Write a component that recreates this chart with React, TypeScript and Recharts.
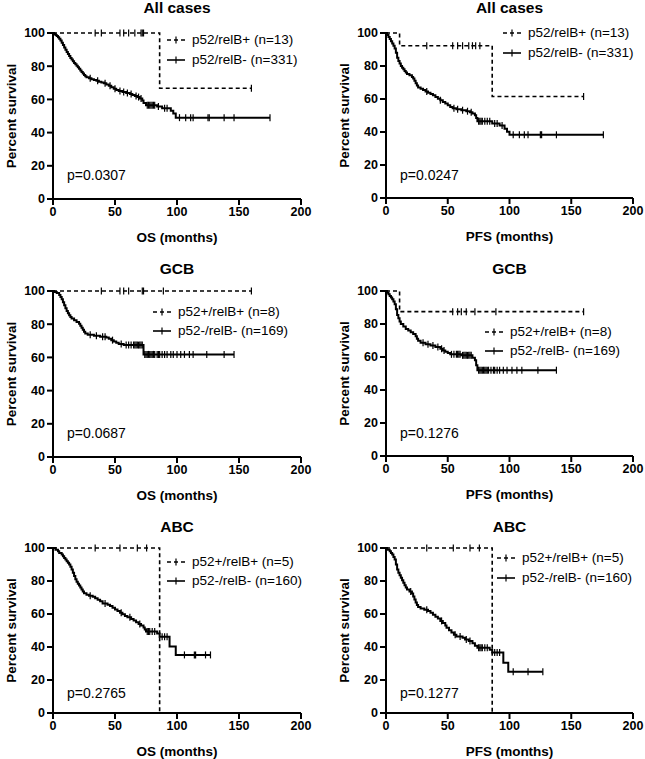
import React from 'react';
import { LineChart, Line, XAxis, YAxis } from 'recharts';

type Step = [number, number];

// step curves: [months, percent surviving after that time]
// All cases - OS
const osAllPosSteps: Step[] = [[0, 100], [86, 66.7]];
const osAllPosCens = [34, 39, 54, 57, 61, 66, 71, 72, 73, 160];
const osAllNegSteps: Step[] = [
  [0, 100], [1, 99.4], [2, 98.8], [3, 98.2], [4, 97.4], [5, 96.6], [6, 95.5], [7, 94.2], [8, 92.8], [9, 91.3],
  [10, 89.9], [11, 88.6], [12, 87.3], [13, 86.1], [14, 85], [15, 84], [16, 83], [17, 82], [18, 81.1], [19, 80.2],
  [20, 79.3], [21, 78.4], [22, 77.4], [23, 76.5], [24, 75.6], [25, 74.7], [26, 73.9], [27, 73.3], [29, 72.7],
  [31, 72.2], [33, 71.7], [35, 71.2], [37, 70.7], [39, 70.2], [41, 69.7], [43, 69], [45, 68.2], [47, 67.3],
  [49, 66.4], [51, 65.6], [53, 65], [56, 64.4], [59, 63.9], [62, 63.3], [64, 62.6], [66, 62], [68, 61.4],
  [70, 60.6], [72, 59.3], [73, 57.8], [75, 56.5], [84, 55.7], [88, 54.7], [95, 53.2], [97, 51.5], [99, 49],
];
const osAllNegCens = [30, 36, 42, 46, 50, 54, 57, 60, 63, 67, 69, 71, 76, 77, 78, 79, 80, 81, 82, 85, 90, 92,
  102, 107, 111, 113, 125, 126, 138, 146, 175];

// All cases - PFS
const pfsAllPosSteps: Step[] = [[0, 100], [11, 92.3], [86, 61.5]];
const pfsAllPosCens = [33, 54, 58, 62, 67, 70, 72.6, 76, 160];
const pfsAllNegSteps: Step[] = [
  [0, 100], [1, 98.8], [2, 97.6], [3, 96.4], [4, 95], [5, 93.6], [6, 92.2], [7, 90.6], [8, 88], [9, 85],
  [10, 83], [11, 81.5], [12, 80], [13, 79], [14, 78], [15, 77], [16, 76], [17, 75.2], [19, 74.4], [21, 73.4],
  [22, 72.4], [23, 71], [24, 69.6], [25, 68.2], [26, 67], [28, 66.2], [30, 65.4], [32, 64.6], [34, 63.8],
  [36, 63], [38, 62.2], [40, 61.2], [42, 60.2], [44, 59.2], [46, 58.2], [48, 57.2], [50, 56.2], [52, 55.2],
  [54, 54.4], [57, 53.8], [61, 53.2], [65, 52.6], [68, 52], [70, 51.2], [72, 50.2], [73, 48.5], [74, 46.5],
  [86, 45.2], [92, 44], [96, 42], [98, 40.2], [100, 38.3],
];
const pfsAllNegCens = [33, 44, 55, 58, 62, 66, 69, 75, 76, 77, 78, 80, 82, 84, 88, 90, 94,
  103, 108, 112, 115, 125, 126, 138, 176];

// GCB - OS
const osGcbPosSteps: Step[] = [[0, 100]];
const osGcbPosCens = [39, 54, 57, 61, 72, 73, 89, 160];
const osGcbNegSteps: Step[] = [
  [0, 100], [1, 99.4], [3, 98.8], [5, 97.6], [6, 96.4], [7, 95], [8, 93.2], [9, 91.4], [10, 89.6], [11, 88],
  [12, 86.6], [13, 85.4], [14, 84.4], [15, 83.4], [17, 82.4], [19, 81.4], [21, 80.2], [22, 79], [23, 77.8],
  [24, 76.6], [25, 75.4], [26, 74.4], [28, 73.6], [33, 73], [38, 72.5], [43, 72], [45, 71.2], [47, 70.4],
  [49, 69.6], [51, 68.8], [53, 68], [57, 67.4], [73, 61.8],
];
const osGcbNegCens = [30, 35, 40, 42, 48, 55, 59, 61, 63, 65, 66, 67, 68, 69, 70, 71, 72,
  74, 75, 76, 77, 78, 79, 80, 81, 82, 84, 85, 86, 88, 90, 92, 95, 97, 100, 103, 106, 110, 113, 124, 138, 146];

// GCB - PFS
const pfsGcbPosSteps: Step[] = [[0, 100], [11, 87.5]];
const pfsGcbPosCens = [54, 58, 61, 65, 72, 89, 160];
const pfsGcbNegSteps: Step[] = [
  [0, 100], [1, 99], [2, 98], [3, 97], [4, 96], [5, 95], [6, 93.6], [7, 92], [8, 89], [9, 85.5],
  [10, 83.5], [11, 81.5], [12, 80], [14, 78.5], [16, 77], [18, 76], [20, 75], [22, 74], [24, 72.6], [25, 71],
  [26, 69.8], [28, 68.6], [32, 67.8], [36, 67], [40, 66], [44, 65], [46, 64], [48, 63.2], [50, 62.4],
  [52, 61.6], [61, 61], [70, 59.5], [72, 58], [73, 55], [74, 52],
];
const pfsGcbNegCens = [30, 34, 38, 42, 45, 47, 53, 55, 57, 58, 59, 60, 62, 63, 64, 65, 66, 67, 68, 69,
  75, 76, 77, 78, 79, 80, 81, 82, 83, 85, 87, 88, 90, 92, 95, 98, 102, 106, 110, 123, 138];

// ABC - OS
const osAbcPosSteps: Step[] = [[0, 100], [86, 0]];
const osAbcPosCens = [34, 54, 68, 75.5];
const osAbcNegSteps: Step[] = [
  [0, 100], [2, 99], [4, 98], [5, 97], [7, 96], [8, 95], [9, 94], [10, 93], [11, 92], [12, 91], [13, 90],
  [14, 88.6], [15, 87], [16, 85], [17, 83], [18, 81], [19, 79.6], [20, 78.4], [21, 77.2], [22, 76], [23, 74.8],
  [24, 73.6], [25, 72.6], [27, 71.6], [29, 71], [32, 70.4], [34, 69.6], [36, 68.6], [38, 67.8], [40, 66.4],
  [44, 65.6], [46, 64.8], [48, 63.8], [50, 62.8], [52, 61.8], [54, 60.8], [56, 59.8], [58, 58.8], [60, 58],
  [63, 57], [65, 56], [67, 55], [69, 54], [71, 53], [73, 51.8], [74, 50.6], [75, 49.4], [84, 48.2],
  [86, 46.2], [94, 40.3], [99, 35.2],
];
const osAbcNegCens = [30, 42, 55, 62, 70, 76, 77, 78, 80, 82, 88, 90, 92, 106, 114, 115, 123, 127];

// ABC - PFS
const pfsAbcPosSteps: Step[] = [[0, 100], [86, 0]];
const pfsAbcPosCens = [33, 54.5, 68, 75.6];
const pfsAbcNegSteps: Step[] = [
  [0, 100], [1, 99], [3, 98], [4, 97], [5, 96], [6, 94.6], [7, 93], [8, 90], [9, 87], [10, 85], [11, 83.5],
  [12, 82], [13, 80.5], [14, 79], [15, 77.5], [16, 76], [17, 74.8], [19, 73.6], [21, 72.4], [22, 70.6],
  [23, 68.8], [24, 67], [25, 65.4], [26, 64.2], [28, 63.4], [31, 62.6], [34, 61.8], [36, 60.8], [38, 59.6],
  [40, 58.4], [42, 57.2], [44, 55.8], [46, 54.6], [48, 53], [49, 51.6], [51, 50.2], [53, 48.8], [55, 47.4],
  [57, 46.4], [62, 45.6], [64, 44.6], [67, 43.6], [70, 42.2], [72, 40.8], [74, 39.6], [84, 38.4],
  [86, 36.6], [95, 30.5], [99, 25],
];
const pfsAbcNegCens = [20, 33, 45, 56, 60, 65, 68, 75, 76, 77, 78, 80, 82, 88, 90, 92, 103, 115, 127];

const xTicks = [0, 50, 100, 150, 200];
const yTicks = [0, 20, 40, 60, 80, 100];

const FONT = '"Liberation Sans", Arial, sans-serif';

interface Pt { t: number; s: number; c: boolean }

function buildCurve(steps: Step[], cens: number[]): Pt[] {
  const pts: Pt[] = steps.map(([t, s]) => ({ t, s, c: false }));
  cens.forEach(t => {
    let s = steps[0][1];
    steps.forEach(([st, sv]) => { if (st <= t) s = sv; });
    pts.push({ t, s, c: true });
  });
  return pts.sort((a, b) => a.t - b.t || Number(a.c) - Number(b.c));
}

const CensorTick = (props: any) => {
  const { cx, cy, payload, index } = props;
  if (!payload || !payload.c) return <g key={`n-${index}`} />;
  return <line key={`c-${index}`} x1={cx} x2={cx} y1={cy - 3.5} y2={cy + 3.5} stroke="#000" strokeWidth={1.2} />;
};

const YTitle = (props: any) => {
  const { viewBox } = props;
  const x = viewBox.x + viewBox.width - 42;
  const y = viewBox.y + viewBox.height / 2;
  return (
    <text x={x} y={y} transform={`rotate(-90, ${x}, ${y})`} textAnchor="middle" dominantBaseline="central"
      fontFamily={FONT} fontWeight="bold" fontSize={13.5} fill="#000">Percent survival</text>
  );
};

const XTitle = (props: any) => {
  const { viewBox, value } = props;
  return (
    <text x={viewBox.x + viewBox.width / 2} y={viewBox.y + 38} textAnchor="middle" dominantBaseline="central"
      fontFamily={FONT} fontWeight="bold" fontSize={13.5} fill="#000">{value}</text>
  );
};

const LegendIcon = ({ dashed }: { dashed: boolean }) => (
  <svg width={20} height={10} style={{ display: 'block' }}>
    <line x1={1} x2={19} y1={5} y2={5} stroke="#000" strokeWidth={1.6} strokeDasharray={dashed ? '4 3' : undefined} />
    <line x1={10} x2={10} y1={1.5} y2={8.5} stroke="#000" strokeWidth={1.2} />
  </svg>
);

interface PanelProps {
  left: number; top: number; width: number;
  plotLeft: number; plotRight: number; plotTop: number; plotH: number;
  title: string; titleY: number; xLabel: string;
  pos: Pt[]; neg: Pt[]; posName: string; negName: string;
  legX: number; legY: number; legGap: number;
  pValue: string; pY: number;
}

const Panel = (p: PanelProps) => {
  const H = p.plotTop + p.plotH + 52;
  const tick = { fontFamily: FONT, fontWeight: 'bold', fontSize: 12.5, fill: '#000' };
  const axis = { stroke: '#000', strokeWidth: 2 };
  const txt: React.CSSProperties = { position: 'absolute', fontFamily: FONT, color: '#000', whiteSpace: 'nowrap', lineHeight: '16px' };
  return (
    <div style={{ position: 'absolute', left: p.left, top: p.top, width: p.width, height: H }}>
      <LineChart width={p.width} height={H} margin={{ top: p.plotTop, right: p.width - p.plotRight, bottom: 0, left: 4 }}>
        <XAxis type="number" dataKey="t" domain={[0, 200]} ticks={xTicks} height={52} allowDataOverflow
          axisLine={axis} tickLine={axis} tickSize={6} tick={tick} label={<XTitle value={p.xLabel} />} />
        <YAxis type="number" domain={[0, 100]} ticks={yTicks} width={p.plotLeft - 4}
          axisLine={axis} tickLine={axis} tickSize={6} tick={tick} label={<YTitle />} />
        <Line data={p.pos} dataKey="s" name={p.posName} type="stepAfter" stroke="#000" strokeWidth={1.6}
          strokeDasharray="4 3" dot={CensorTick} activeDot={false} isAnimationActive={false} />
        <Line data={p.neg} dataKey="s" name={p.negName} type="stepAfter" stroke="#000" strokeWidth={2}
          dot={CensorTick} activeDot={false} isAnimationActive={false} />
      </LineChart>
      <div style={{ ...txt, left: (p.plotLeft + p.plotRight) / 2, top: p.titleY - p.top, transform: 'translate(-50%, -50%)', fontWeight: 'bold', fontSize: 15.5 }}>
        {p.title}
      </div>
      {[{ name: p.posName, dashed: true }, { name: p.negName, dashed: false }].map((e, i) => (
        <div key={e.name} style={{ ...txt, left: p.legX - p.left, top: p.legY - p.top + i * p.legGap, transform: 'translateY(-50%)', display: 'flex', alignItems: 'center', fontSize: 13.5 }}>
          <LegendIcon dashed={e.dashed} />
          <span style={{ marginLeft: 6 }}>{e.name}</span>
        </div>
      ))}
      <div style={{ ...txt, left: p.plotLeft + 14, top: p.pY - p.top, transform: 'translateY(-50%)', fontSize: 14 }}>
        {p.pValue}
      </div>
    </div>
  );
};

const leftCol = { left: 0, width: 320, plotLeft: 53, plotRight: 301 };
const rightCol = { left: 320, width: 325, plotLeft: 66, plotRight: 313 };

export default function App() {
  return (
    <div style={{ position: 'absolute', left: 0, top: 0, width: 645, height: 759, overflow: 'hidden', background: '#fff' }}>
      <Panel {...leftCol} top={0} plotTop={33} plotH={166} title="All cases" titleY={8} xLabel="OS (months)"
        pos={buildCurve(osAllPosSteps, osAllPosCens)} neg={buildCurve(osAllNegSteps, osAllNegCens)}
        posName="p52/relB+ (n=13)" negName="p52/relB- (n=331)" legX={166} legY={40} legGap={20}
        pValue="p=0.0307" pY={175} />
      <Panel {...rightCol} top={0} plotTop={33} plotH={165} title="All cases" titleY={8} xLabel="PFS (months)"
        pos={buildCurve(pfsAllPosSteps, pfsAllPosCens)} neg={buildCurve(pfsAllNegSteps, pfsAllNegCens)}
        posName="p52/relB+ (n=13)" negName="p52/relB- (n=331)" legX={502} legY={33} legGap={20}
        pValue="p=0.0247" pY={175} />
      <Panel {...leftCol} top={250} plotTop={41} plotH={166} title="GCB" titleY={269} xLabel="OS (months)"
        pos={buildCurve(osGcbPosSteps, osGcbPosCens)} neg={buildCurve(osGcbNegSteps, osGcbNegCens)}
        posName="p52+/relB+ (n=8)" negName="p52-/relB- (n=169)" legX={152} legY={312} legGap={19}
        pValue="p=0.0687" pY={433} />
      <Panel {...rightCol} top={250} plotTop={41} plotH={165} title="GCB" titleY={269} xLabel="PFS (months)"
        pos={buildCurve(pfsGcbPosSteps, pfsGcbPosCens)} neg={buildCurve(pfsGcbNegSteps, pfsGcbNegCens)}
        posName="p52+/relB+ (n=8)" negName="p52-/relB- (n=169)" legX={484} legY={332} legGap={19}
        pValue="p=0.1276" pY={433} />
      <Panel {...leftCol} top={500} plotTop={48} plotH={165} title="ABC" titleY={527} xLabel="OS (months)"
        pos={buildCurve(osAbcPosSteps, osAbcPosCens)} neg={buildCurve(osAbcNegSteps, osAbcNegCens)}
        posName="p52+/relB+ (n=5)" negName="p52-/relB- (n=160)" legX={166} legY={562} legGap={19}
        pValue="p=0.2765" pY={693} />
      <Panel {...rightCol} top={500} plotTop={48} plotH={165} title="ABC" titleY={527} xLabel="PFS (months)"
        pos={buildCurve(pfsAbcPosSteps, pfsAbcPosCens)} neg={buildCurve(pfsAbcNegSteps, pfsAbcNegCens)}
        posName="p52+/relB+ (n=5)" negName="p52-/relB- (n=160)" legX={496} legY={558} legGap={20}
        pValue="p=0.1277" pY={693} />
    </div>
  );
}
